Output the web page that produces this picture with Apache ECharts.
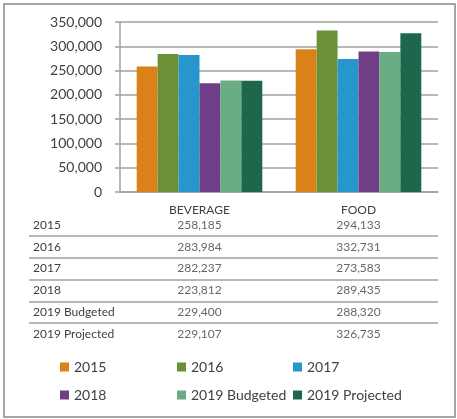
<!DOCTYPE html>
<html>
<head>
<meta charset="utf-8">
<script src="https://cdn.jsdelivr.net/npm/echarts@6/dist/echarts.min.js"></script>
<style>
  html, body { margin: 0; padding: 0; background: #fff; }
  #frame { position: absolute; left: 3px; top: 3px; width: 449px; height: 411px; border: 2px solid #a6a6a6; }
  #chart { position: absolute; left: 0; top: 0; width: 457px; height: 419px; }
</style>
</head>
<body>
<div id="frame"></div>
<div id="chart"></div>
<script>
  // categories on the x axis
  var categories = ['BEVERAGE', 'FOOD'];
  // one series per year / scenario
  var seriesNames = ['2015', '2016', '2017', '2018', '2019 Budgeted', '2019 Projected'];
  var values2015 = [258185, 294133];
  var values2016 = [283984, 332731];
  var values2017 = [282237, 273583];
  var values2018 = [223812, 289435];
  var values2019Budgeted = [229400, 288320];
  var values2019Projected = [229107, 326735];
  var yTicks = [0, 50000, 100000, 150000, 200000, 250000, 300000, 350000];

  var seriesValues = [values2015, values2016, values2017, values2018, values2019Budgeted, values2019Projected];
  var colors = ['#da8219', '#6a9138', '#2696cc', '#703e86', '#69ae83', '#1e674d'];

  var font = 'Lato';
  var textColor = '#404040';
  var lineColor = '#a0a0a0';

  function fmt(v) {
    return v.toLocaleString('en-US');
  }

  var chart = echarts.init(document.getElementById('chart'));

  // bars
  var series = seriesNames.map(function (name, i) {
    return {
      name: name,
      type: 'bar',
      xAxisIndex: 0,
      yAxisIndex: 0,
      data: seriesValues[i],
      barGap: '0%',
      barCategoryGap: '21%',
      itemStyle: { color: colors[i] }
    };
  });

  // data table cells, placed through the table grid's axes
  var cells = [];
  seriesNames.forEach(function (name, i) {
    categories.forEach(function (cat, j) {
      cells.push([cat, name, seriesValues[i][j]]);
    });
  });
  series.push({
    type: 'scatter',
    xAxisIndex: 1,
    yAxisIndex: 1,
    symbolSize: 0,
    silent: true,
    data: cells,
    encode: { x: 0, y: 1 },
    label: {
      show: true,
      position: 'inside',
      fontFamily: font,
      fontSize: 12,
      color: textColor,
      formatter: function (p) { return fmt(p.value[2]); }
    }
  });

  var rowAxis = function (gridIndex, showLabels) {
    return {
      type: 'category',
      gridIndex: gridIndex,
      data: seriesNames,
      inverse: true,
      axisLine: { show: false },
      axisTick: { show: false },
      axisLabel: {
        show: showLabels,
        inside: true,
        margin: 4,
        interval: 0,
        fontFamily: font,
        fontSize: 12,
        color: textColor
      },
      splitLine: {
        show: true,
        interval: 0,
        showMinLine: false,
        showMaxLine: false,
        lineStyle: { color: lineColor, width: 1.5 }
      }
    };
  };

  // legend laid out as three columns of two items
  var legendCols = [[0, 3], [1, 4], [2, 5]];
  var legendLefts = [60, 177, 293];
  var legends = legendCols.map(function (col, k) {
    return {
      orient: 'vertical',
      left: legendLefts[k],
      top: 360,
      padding: 0,
      itemGap: 14,
      itemWidth: 9,
      itemHeight: 9,
      icon: 'rect',
      selectedMode: false,
      data: col.map(function (i) { return seriesNames[i]; }),
      textStyle: { fontFamily: font, fontSize: 14, color: textColor }
    };
  });

  var option = {
    animation: false,
    backgroundColor: 'transparent',
    grid: [
      { left: 120, right: 19, top: 22, height: 170 },
      { left: 120, right: 19, top: 214, height: 131 },
      { left: 29, width: 91, top: 214, height: 131 }
    ],
    legend: legends,
    xAxis: [
      {
        type: 'category',
        gridIndex: 0,
        data: categories,
        axisLine: { lineStyle: { color: lineColor, width: 1.5 } },
        axisTick: { show: false },
        axisLabel: { margin: 12, fontFamily: font, fontSize: 12, color: textColor }
      },
      { type: 'category', gridIndex: 1, data: categories, show: false },
      { type: 'value', gridIndex: 2, show: false }
    ],
    yAxis: [
      {
        type: 'value',
        gridIndex: 0,
        min: yTicks[0],
        max: yTicks[yTicks.length - 1],
        interval: yTicks[1] - yTicks[0],
        axisLine: { show: true, lineStyle: { color: lineColor, width: 1.5 } },
        axisTick: { show: true, length: 5, lineStyle: { color: lineColor, width: 1.5 } },
        axisLabel: {
          margin: 18,
          fontFamily: font,
          fontSize: 14,
          color: textColor,
          formatter: function (v) { return fmt(v); }
        },
        splitLine: { lineStyle: { color: lineColor, width: 1.5 } }
      },
      rowAxis(1, false),
      rowAxis(2, true)
    ],
    series: series
  };

  chart.setOption(option);
</script>
</body>
</html>
